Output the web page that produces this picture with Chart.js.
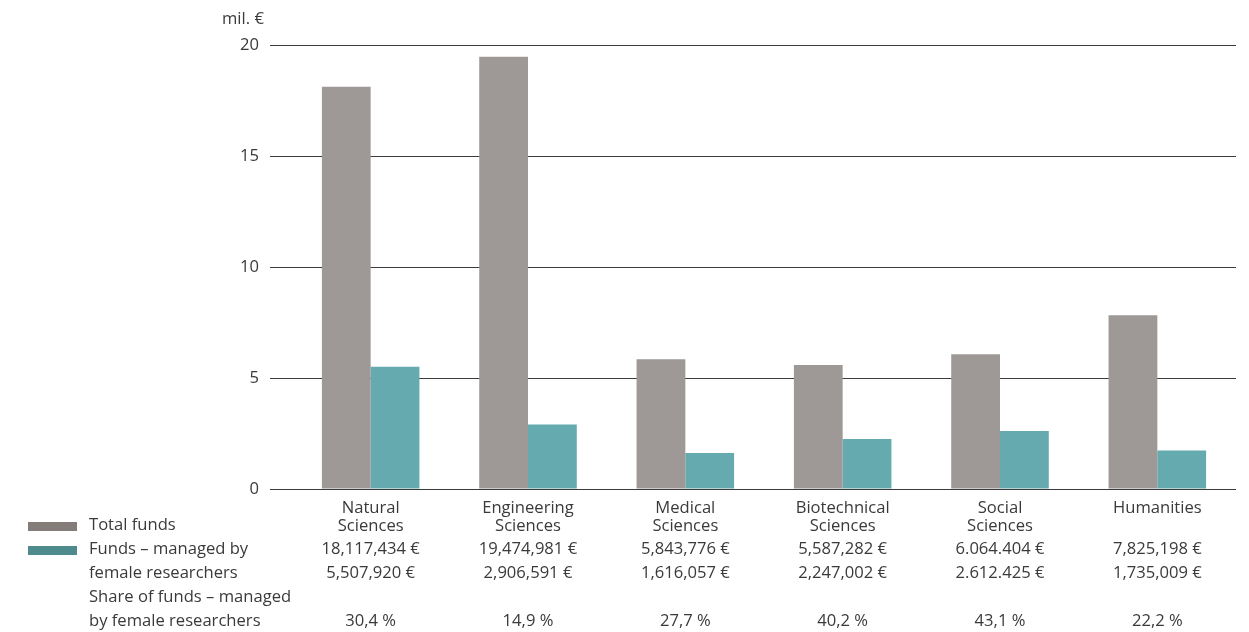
<!DOCTYPE html>
<html>
<head>
<meta charset="utf-8">
<script src="https://cdn.jsdelivr.net/npm/chart.js@4.4.1/dist/chart.umd.min.js"></script>
<style>
    html, body { margin: 0; padding: 0; background: #fff; }
    canvas { display: block; }
</style>
</head>
<body>
<canvas id="grafico" width="1249" height="632"></canvas>
<script>
// --- DADOS ---
const categorias = [
    ['Natural', 'Sciences'],
    ['Engineering', 'Sciences'],
    ['Medical', 'Sciences'],
    ['Biotechnical', 'Sciences'],
    ['Social', 'Sciences'],
    ['Humanities']
];
// milhoes de euros
const totalFunds  = [18.117434, 19.474981, 5.843776, 5.587282, 6.064404, 7.825198];
const femaleFunds = [5.507920, 2.906591, 1.616057, 2.247002, 2.612425, 1.735009];

const totalLabels  = ['18,117,434 €', '19,474,981 €', '5,843,776 €', '5,587,282 €', '6.064.404 €', '7,825,198 €'];
const femaleLabels = ['5,507,920 €', '2,906,591 €', '1,616,057 €', '2,247,002 €', '2.612.425 €', '1,735,009 €'];
const shareLabels  = ['30,4 %', '14,9 %', '27,7 %', '40,2 %', '43,1 %', '22,2 %'];

const yTicks = [0, 5, 10, 15, 20];
const yUnit = 'mil. €';

// --- CORES ---
const COR_TOTAL = '#9e9996';
const COR_FEMALE = '#64aaae';
const COR_LEG_TOTAL = '#847c79';
const COR_LEG_FEMALE = '#4f8b8c';
const COR_TEXTO = '#3a3a3a';
const COR_GRADE = '#3c3c3c';
const FONTE = '"Open Sans", sans-serif';
const TAM = 16.6;

// Plugin: unidade do eixo, legenda e tabela embaixo
const tabelaPlugin = {
    id: 'tabelaPlugin',
    afterDraw(chart) {
        const { ctx, scales: { x } } = chart;
        ctx.save();
        ctx.font = TAM + 'px ' + FONTE;
        ctx.fillStyle = COR_TEXTO;
        ctx.textBaseline = 'middle';

        // unidade
        ctx.textAlign = 'left';
        ctx.fillText(yUnit, 222, 19);

        // legenda (lado esquerdo)
        ctx.fillStyle = COR_LEG_TOTAL;
        ctx.fillRect(28, 522, 49, 9);
        ctx.fillStyle = COR_LEG_FEMALE;
        ctx.fillRect(28, 546, 49, 9);

        ctx.fillStyle = COR_TEXTO;
        const linhas = [
            ['Total funds', 525],
            ['Funds – managed by', 549],
            ['female researchers', 573],
            ['Share of funds – managed', 597],
            ['by female researchers', 621]
        ];
        linhas.forEach(([t, y]) => ctx.fillText(t, 89, y));

        // valores
        ctx.textAlign = 'center';
        categorias.forEach((c, i) => {
            const cx = x.getPixelForValue(i);
            ctx.fillText(totalLabels[i], cx, 549);
            ctx.fillText(femaleLabels[i], cx, 573);
            ctx.fillText(shareLabels[i], cx, 621);
        });
        ctx.restore();
    }
};

new Chart(document.getElementById('grafico'), {
    type: 'bar',
    data: {
        labels: categorias,
        datasets: [
            {
                label: 'Total funds',
                data: totalFunds,
                backgroundColor: COR_TOTAL,
                borderWidth: 0
            },
            {
                label: 'Funds – managed by female researchers',
                data: femaleFunds,
                backgroundColor: COR_FEMALE,
                borderWidth: 0
            }
        ]
    },
    options: {
        responsive: false,
        animation: false,
        devicePixelRatio: 1,
        layout: {
            padding: { top: 45, right: 13, left: 0, bottom: 0 }
        },
        datasets: {
            bar: { categoryPercentage: 0.62, barPercentage: 1 }
        },
        plugins: {
            legend: { display: false },
            tooltip: { enabled: false }
        },
        scales: {
            x: {
                grid: { display: false },
                border: { display: false },
                ticks: {
                    color: COR_TEXTO,
                    font: { family: FONTE, size: TAM, lineHeight: 1.08 },
                    padding: 2,
                    maxRotation: 0
                },
                afterFit(scale) { scale.height = 632 - 489; }
            },
            y: {
                min: 0,
                max: 20,
                afterBuildTicks(scale) {
                    scale.ticks = yTicks.map(v => ({ value: v }));
                },
                border: { display: false },
                grid: {
                    color: COR_GRADE,
                    lineWidth: 1,
                    drawTicks: true,
                    tickLength: 22,
                    tickColor: COR_GRADE
                },
                ticks: {
                    color: COR_TEXTO,
                    font: { family: FONTE, size: TAM },
                    padding: 11
                },
                afterFit(scale) { scale.width = 292; }
            }
        }
    },
    plugins: [tabelaPlugin]
});
</script>
</body>
</html>
